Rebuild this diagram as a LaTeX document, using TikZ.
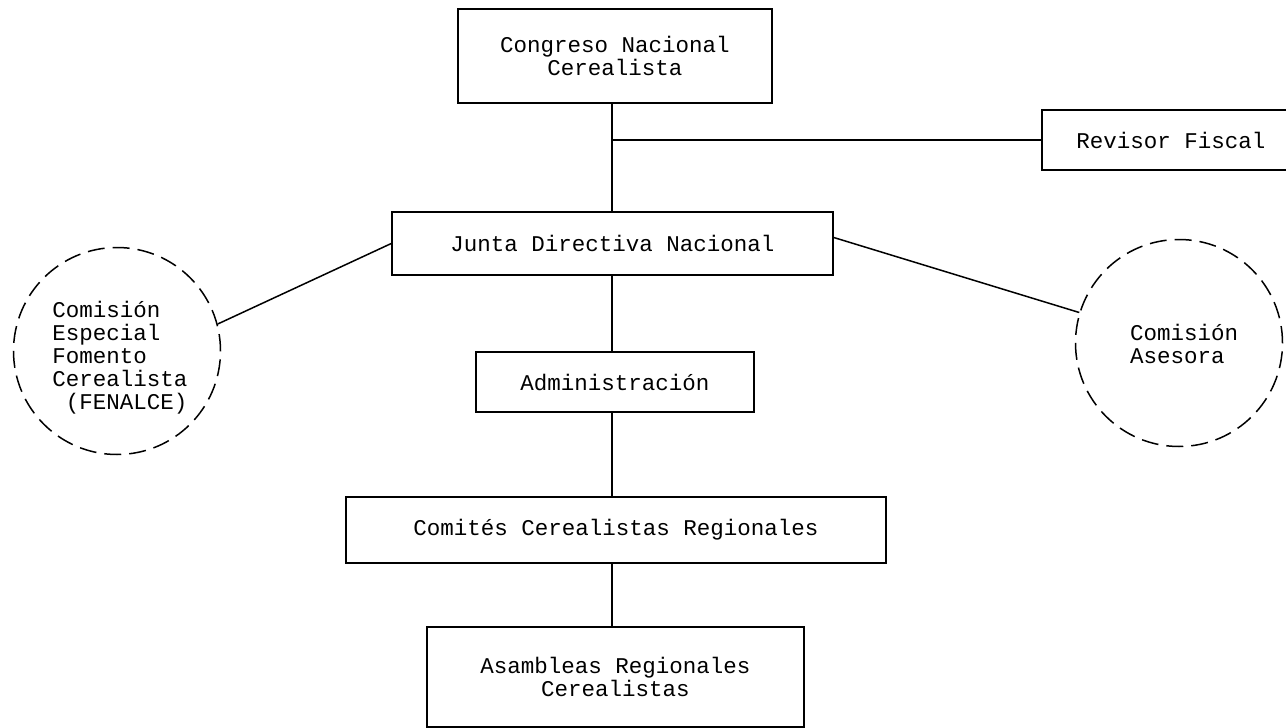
\documentclass[tikz,border=0pt]{standalone}
\usepackage{fontspec}
\setmainfont{Liberation Mono}
\begin{document}
\begin{tikzpicture}[x=1pt,y=-1pt,
  every node/.style={font=\fontsize{22.5}{23}\selectfont, inner sep=0pt},
  orgbox/.style={draw, line width=1.5pt, rectangle, align=center},
  dashcircle/.style={draw, line width=1.5pt, circle, dash pattern=on 17pt off 8pt, minimum size=207pt, align=left},
  link/.style={line width=1.5pt}]
\useasboundingbox (0,0) rectangle (1286,728);
\node[orgbox, minimum width=314pt, minimum height=94pt] (cong) at (615,56) {Congreso Nacional\\Cerealista};
\node[orgbox, minimum width=258pt, minimum height=60pt] (rev) at (1171,140) {Revisor Fiscal};
\node[orgbox, minimum width=441pt, minimum height=63pt] (junta) at (612.5,243.5) {Junta Directiva Nacional};
\node[orgbox, minimum width=278pt, minimum height=60pt] (adm) at (615,382) {Administración};
\node[orgbox, minimum width=540pt, minimum height=66pt] (com) at (616,530) {Comités Cerealistas Regionales};
\node[orgbox, minimum width=377pt, minimum height=100pt] (asa) at (615.5,677) {Asambleas Regionales\\Cerealistas};
\node[dashcircle] (fom) at (117,351) {};
\node[align=left] (fomtxt) at (120,358) {Comisión\\Especial\\Fomento\\Cerealista\\\hphantom{x}(FENALCE)};
\node[dashcircle] (ase) at (1179,343) {};
\node[align=left] (asetxt) at (1184,343.5) {Comisión\\Asesora};
\coordinate (spine) at (612,0);
\coordinate (br) at (612,140);
\draw[link] (spine |- cong.south) -- (spine |- junta.north);
\draw[link] (br) -- (rev.west);
\draw[link] (spine |- junta.south) -- (spine |- adm.north);
\draw[link] (spine |- adm.south) -- (spine |- com.north);
\draw[link] (spine |- com.south) -- (spine |- asa.north);
\draw[link] (fom.15) -- (junta.west);
\draw[link] ([yshift=6pt]junta.east) -- (ase.163);
\end{tikzpicture}
\end{document}
